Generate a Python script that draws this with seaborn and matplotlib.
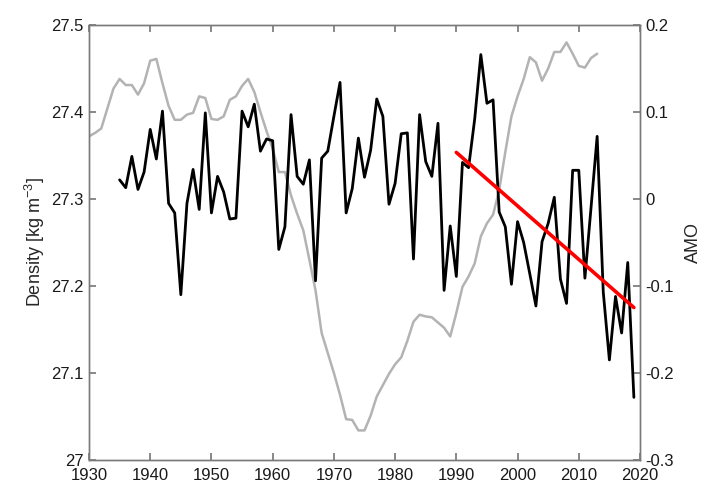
import numpy as np
import pandas as pd
import matplotlib
matplotlib.use('Agg')
import matplotlib.pyplot as plt
import seaborn as sns

# density record (black line), one value per year
density_years = list(range(1935, 2020))
density = [27.322, 27.313, 27.349, 27.311, 27.331, 27.380, 27.346, 27.401, 27.295, 27.284,
           27.190, 27.295, 27.334, 27.288, 27.399, 27.284, 27.326, 27.308, 27.277, 27.278,
           27.401, 27.383, 27.409, 27.355, 27.369, 27.367, 27.242, 27.268, 27.397, 27.326,
           27.317, 27.345, 27.206, 27.347, 27.355, 27.395, 27.434, 27.284, 27.312, 27.370,
           27.325, 27.356, 27.415, 27.395, 27.294, 27.318, 27.375, 27.376, 27.231, 27.397,
           27.343, 27.326, 27.387, 27.195, 27.269, 27.211, 27.342, 27.336, 27.392, 27.466,
           27.410, 27.414, 27.285, 27.268, 27.202, 27.274, 27.250, 27.214, 27.177, 27.251,
           27.272, 27.302, 27.208, 27.180, 27.333, 27.333, 27.209, 27.290, 27.372, 27.193,
           27.115, 27.188, 27.146, 27.227, 27.072]

# smoothed AMO index (grey line)
amo_years = list(range(1930, 2014))
amo = [0.072, 0.076, 0.081, 0.104, 0.127, 0.138, 0.131, 0.131, 0.120, 0.133,
       0.159, 0.161, 0.133, 0.107, 0.091, 0.091, 0.097, 0.099, 0.118, 0.116,
       0.092, 0.091, 0.095, 0.114, 0.118, 0.130, 0.138, 0.123, 0.100, 0.078,
       0.058, 0.031, 0.031, 0.004, -0.017, -0.036, -0.070, -0.105, -0.154, -0.177,
       -0.200, -0.225, -0.253, -0.254, -0.266, -0.266, -0.249, -0.227, -0.214, -0.201,
       -0.190, -0.182, -0.163, -0.141, -0.133, -0.135, -0.136, -0.142, -0.148, -0.158,
       -0.131, -0.101, -0.089, -0.074, -0.043, -0.028, -0.018, 0.010, 0.054, 0.095,
       0.118, 0.138, 0.163, 0.157, 0.136, 0.150, 0.169, 0.169, 0.180, 0.167,
       0.153, 0.151, 0.162, 0.167]

# linear trend of density since 1990
trend_start, trend_end = 1990, 2019

df = pd.DataFrame({'year': density_years, 'density': density})
amo_df = pd.DataFrame({'year': amo_years, 'amo': amo})

sub = df[(df.year >= trend_start) & (df.year <= trend_end)]
coef = np.polyfit(sub.year, sub.density, 1)
trend_df = pd.DataFrame({'year': [trend_start, trend_end]})
trend_df['fit'] = np.polyval(coef, trend_df.year)

sns.set_theme(style="white")
plt.rcParams['font.family'] = ['Liberation Sans', 'DejaVu Sans']
plt.rcParams['axes.unicode_minus'] = False
plt.rcParams['mathtext.default'] = 'regular'

fig = plt.figure(figsize=(7.23, 5.01), dpi=100)
ax = fig.add_axes([89/723, 41/501, 551/723, 435/501])
ax2 = ax.twinx()

sns.lineplot(data=amo_df, x='year', y='amo', ax=ax2, color='#b3b3b3', linewidth=1.8)
sns.lineplot(data=df, x='year', y='density', ax=ax, color='black', linewidth=2.0)
sns.lineplot(data=trend_df, x='year', y='fit', ax=ax, color='#ff0000', linewidth=2.6)

# density axis drawn above the AMO axis
ax.set_zorder(ax2.get_zorder() + 1)
ax.patch.set_visible(False)

ax.set_xlim(1930, 2020)
ax.set_ylim(27, 27.5)
ax2.set_ylim(-0.3, 0.2)
ax.set_xticks(range(1930, 2021, 10))
ax.set_yticks(np.arange(27, 27.51, 0.1))
ax.set_yticklabels(['27', '27.1', '27.2', '27.3', '27.4', '27.5'])
ax2.set_yticks(np.arange(-0.3, 0.21, 0.1))
ax2.set_yticklabels(['-0.3', '-0.2', '-0.1', '0', '0.1', '0.2'])

ax.set_xlabel('')
ax.set_ylabel('Density [kg m$^{-3}$]', fontsize=13, labelpad=3)
ax2.set_ylabel('AMO', fontsize=13, labelpad=8)

for a in (ax, ax2):
    for s in a.spines.values():
        s.set_color('#7a7a7a')
        s.set_linewidth(1.0)
ax.tick_params(axis='x', direction='in', length=5, top=True, bottom=True,
               color='#7a7a7a', labelcolor='#1a1a1a', labelsize=12, pad=6)
ax.tick_params(axis='y', direction='in', length=5, left=True, right=False,
               color='#7a7a7a', labelcolor='#1a1a1a', labelsize=12, pad=4)
ax2.tick_params(axis='y', direction='in', length=5, left=False, right=True,
                color='#7a7a7a', labelcolor='#1a1a1a', labelsize=12, pad=4)

fig.savefig('out.png', dpi=100)
